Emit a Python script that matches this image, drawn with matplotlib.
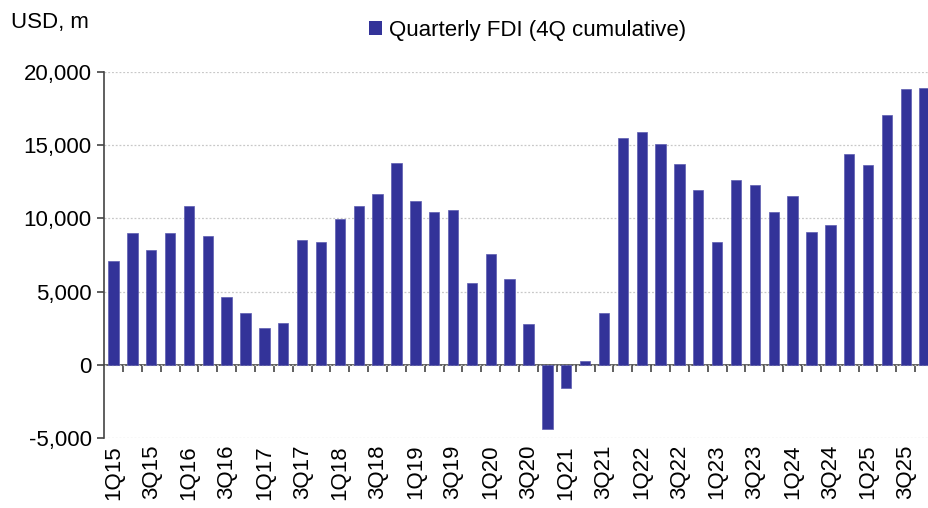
"""Quarterly FDI (4Q cumulative), USD m, 1Q15-4Q25."""
import numpy as np
import matplotlib
matplotlib.use('Agg')
import matplotlib.pyplot as plt
from matplotlib.patches import Patch

QUARTERS = [f'{q}Q{y}' for y in range(15, 26) for q in range(1, 5)]
FDI = [
    7100, 9000, 7850, 9000,      # 2015
    10850, 8770, 4600, 3570,     # 2016
    2480, 2860, 8520, 8360,      # 2017
    9950, 10820, 11680, 13800,   # 2018
    11160, 10430, 10550, 5610,   # 2019
    7550, 5890, 2770, -4360,     # 2020
    -1590, 230, 3520, 15480,     # 2021
    15930, 15070, 13730, 11910,  # 2022
    8390, 12590, 12250, 10410,   # 2023
    11500, 9090, 9520, 14390,    # 2024
    13660, 17050, 18860, 18900,  # 2025
]
Y_TICKS = [-5000, 0, 5000, 10000, 15000, 20000]

BAR_COLOR = '#333399'
SPINE_COLOR = '#444444'
FONT_SIZE = 16

plt.rcParams['font.family'] = ['Liberation Sans', 'DejaVu Sans']

if __name__ == '__main__':
    fig = plt.figure(figsize=(9.29, 5.08), dpi=100)
    ax = fig.add_axes([0.112, 0.1378, 0.888, 0.7205])

    x = np.arange(len(QUARTERS))
    ax.bar(x, FDI, width=0.55, color=BAR_COLOR, edgecolor='#5c5cb0',
           linewidth=0.5, zorder=3)

    ax.set_ylim(-5000, 20000)
    ax.set_xlim(-0.5, len(QUARTERS) - 0.77)
    ax.set_yticks(Y_TICKS)
    ax.set_yticklabels([f'{v:,}' for v in Y_TICKS], fontsize=FONT_SIZE)
    ax.yaxis.grid(True, linestyle=(0, (1.5, 1.5)), color='#c8c8c8',
                  linewidth=0.9, zorder=0)
    ax.tick_params(axis='y', length=5, width=1.2, color=SPINE_COLOR, pad=4)

    # category labels along the bottom, every other quarter
    ax.set_xticks(x[::2])
    ax.set_xticklabels(QUARTERS[::2], rotation=90, fontsize=FONT_SIZE)
    ax.tick_params(axis='x', length=0, pad=5)

    for side in ['top', 'right', 'bottom']:
        ax.spines[side].set_visible(False)
    ax.spines['left'].set_color(SPINE_COLOR)
    ax.spines['left'].set_linewidth(1.2)

    # zero line with category-boundary ticks
    zero_axis = ax.secondary_xaxis(0.2)
    zero_axis.set_xticks(x + 0.5)
    zero_axis.set_xticklabels([])
    zero_axis.tick_params(axis='x', length=5, width=1.2, color=SPINE_COLOR,
                          direction='out')
    zero_axis.spines['bottom'].set_color(SPINE_COLOR)
    zero_axis.spines['bottom'].set_linewidth(1.2)

    fig.text(0.012, 0.955, 'USD, m', fontsize=FONT_SIZE, va='center')
    handle = Patch(facecolor=BAR_COLOR, edgecolor='none')
    fig.legend([handle], ['Quarterly FDI (4Q cumulative)'], loc='center',
               bbox_to_anchor=(0.568, 0.94), frameon=False,
               fontsize=FONT_SIZE, handlelength=0.6, handleheight=0.6,
               handletextpad=0.3)

    fig.savefig('out.png', dpi=100)
    plt.close(fig)
